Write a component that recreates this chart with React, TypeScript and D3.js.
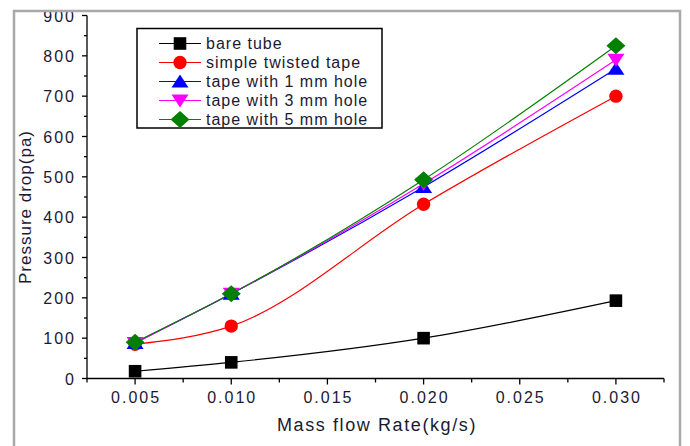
import * as d3 from 'd3';
import { useEffect, useRef } from 'react';

const massFlow = [0.005, 0.01, 0.02, 0.03];
const bareTube = [18, 40, 100, 193];
const simpleTwisted = [85, 130, 432, 700];
const hole1mm = [88, 210, 475, 768];
const hole3mm = [88, 210, 483, 790];
const hole5mm = [90, 210, 493, 825];

const seriesNames = [
  'bare tube',
  'simple twisted tape',
  'tape with 1 mm hole',
  'tape with 3 mm hole',
  'tape with 5 mm hole',
];
const seriesColors = ['#000000', '#ff0000', '#0000ff', '#ff00ff', '#008000'];
const seriesMarkers = ['square', 'circle', 'triangleUp', 'triangleDown', 'diamond'];

const xTickLabels = ['0.005', '0.010', '0.015', '0.020', '0.025', '0.030'];
const yTickValues = [0, 100, 200, 300, 400, 500, 600, 700, 800, 900];

function markerPath(kind: string) {
  switch (kind) {
    case 'square':
      return 'M-6.3,-6.3H6.3V6.3H-6.3Z';
    case 'circle':
      return d3.symbol(d3.symbolCircle, 140)() as string;
    case 'triangleUp':
      return 'M0,-7L8.5,6H-8.5Z';
    case 'triangleDown':
      return 'M0,7L8.5,-6H-8.5Z';
    case 'diamond':
      return 'M0,-8.5L9.5,0L0,8.5L-9.5,0Z';
    default:
      return '';
  }
}

export default function App() {
  const ref = useRef<SVGSVGElement>(null);

  useEffect(() => {
    const width = 690;
    const height = 446;
    const svg = d3.select(ref.current);
    svg.selectAll('*').remove();
    svg.attr('width', width).attr('height', height).attr('viewBox', `0 0 ${width} ${height}`);

    const font = 'Arial, "Liberation Sans", sans-serif';

    svg.append('rect').attr('width', width).attr('height', height).attr('fill', '#fff');

    // everything is cut at the frame, like the scanned figure
    svg.append('defs')
      .append('clipPath')
      .attr('id', 'frame-clip')
      .append('rect')
      .attr('x', 14)
      .attr('y', 12)
      .attr('width', 666)
      .attr('height', 450);

    const plot = svg.append('g').attr('clip-path', 'url(#frame-clip)');

    const x = d3.scaleLinear().domain([0.0025, 0.0325]).range([87, 664]);
    const y = d3.scaleLinear().domain([0, 900]).range([378.5, 15.5]);

    const allSeries = [bareTube, simpleTwisted, hole1mm, hole3mm, hole5mm];

    // axes
    const xAxis = plot.append('g').attr('transform', `translate(0,${y(0)})`);
    xAxis.append('line').attr('x1', x(0.0025)).attr('x2', x(0.0325)).attr('stroke', '#000').attr('stroke-width', 1.3);
    const xMinor = d3.range(0, 13).map((i) => 0.0025 + i * 0.0025);
    xAxis.selectAll('line.tick')
      .data(xMinor)
      .enter()
      .append('line')
      .attr('class', 'tick')
      .attr('x1', (d) => x(d))
      .attr('x2', (d) => x(d))
      .attr('y1', 0)
      .attr('y2', (_d, i) => (i % 2 === 1 ? 6 : 4))
      .attr('stroke', '#000')
      .attr('stroke-width', 1.3);
    xAxis.selectAll('text')
      .data(xTickLabels)
      .enter()
      .append('text')
      .attr('x', (d) => x(+d) + 1)
      .attr('y', 24)
      .attr('text-anchor', 'middle')
      .style('font-family', font)
      .style('font-size', '16px')
      .style('letter-spacing', '2px')
      .style('fill', '#1a1a33')
      .text((d) => d);

    const yAxis = plot.append('g').attr('transform', `translate(${x(0.0025)},0)`);
    yAxis.append('line').attr('y1', y(0)).attr('y2', y(900)).attr('stroke', '#000').attr('stroke-width', 1.3);
    const yMinor = d3.range(0, 19).map((i) => i * 50);
    yAxis.selectAll('line.tick')
      .data(yMinor)
      .enter()
      .append('line')
      .attr('class', 'tick')
      .attr('y1', (d) => y(d))
      .attr('y2', (d) => y(d))
      .attr('x1', 0)
      .attr('x2', (_d, i) => (i % 2 === 0 ? -5 : -3))
      .attr('stroke', '#000')
      .attr('stroke-width', 1.3);
    yAxis.selectAll('text')
      .data(yTickValues)
      .enter()
      .append('text')
      .attr('x', -11)
      .attr('y', (d) => y(d) + 6)
      .attr('text-anchor', 'end')
      .style('font-family', font)
      .style('font-size', '16px')
      .style('letter-spacing', '2px')
      .style('fill', '#1a1a33')
      .text((d) => String(d));

    plot.append('text')
      .attr('x', 377)
      .attr('y', 431)
      .attr('text-anchor', 'middle')
      .style('font-family', font)
      .style('font-size', '18px')
      .style('letter-spacing', '1.6px')
      .style('fill', '#1a1a33')
      .text('Mass flow Rate(kg/s)');

    plot.append('text')
      .attr('transform', 'translate(31,207) rotate(-90)')
      .attr('text-anchor', 'middle')
      .style('font-family', font)
      .style('font-size', '17px')
      .style('letter-spacing', '1px')
      .style('fill', '#1a1a33')
      .text('Pressure drop(pa)');

    // series
    const line = d3.line<number>()
      .x((_d, i) => x(massFlow[i]))
      .y((d) => y(d))
      .curve(d3.curveMonotoneX);

    allSeries.forEach((values, s) => {
      plot.append('path')
        .attr('d', line(values))
        .attr('fill', 'none')
        .attr('stroke', seriesColors[s])
        .attr('stroke-width', 1.2);
    });
    allSeries.forEach((values, s) => {
      plot.append('g')
        .selectAll('path')
        .data(values)
        .enter()
        .append('path')
        .attr('transform', (d, i) => `translate(${x(massFlow[i])},${y(d)})`)
        .attr('d', markerPath(seriesMarkers[s]))
        .attr('fill', seriesColors[s]);
    });

    // legend
    const legend = plot.append('g');
    legend.append('rect')
      .attr('x', 137)
      .attr('y', 28.5)
      .attr('width', 245)
      .attr('height', 99.5)
      .attr('fill', '#fff')
      .attr('stroke', '#000')
      .attr('stroke-width', 1.5);

    seriesNames.forEach((name, i) => {
      const row = legend.append('g').attr('transform', `translate(0,${43.5 + i * 19})`);
      row.append('line')
        .attr('x1', 159)
        .attr('x2', 201)
        .attr('stroke', seriesColors[i])
        .attr('stroke-width', 1.2);
      row.append('path')
        .attr('transform', 'translate(180,0)')
        .attr('d', markerPath(seriesMarkers[i]))
        .attr('fill', seriesColors[i]);
      row.append('text')
        .attr('x', 206)
        .attr('y', 5.5)
        .style('font-family', font)
        .style('font-size', '16px')
        .style('letter-spacing', '1px')
        .style('fill', '#1a1a33')
        .text(name);
    });

    // outer frame (bottom runs off the picture)
    svg.append('path')
      .attr('d', 'M14,460V11H680V460')
      .attr('fill', 'none')
      .attr('stroke', '#a9a9a9')
      .attr('stroke-width', 2.5);

    return () => {
      svg.selectAll('*').remove();
    };
  }, []);

  return (
    <svg
      ref={ref}
      style={{ position: 'absolute', left: 0, top: 0, display: 'block' }}
    />
  );
}
